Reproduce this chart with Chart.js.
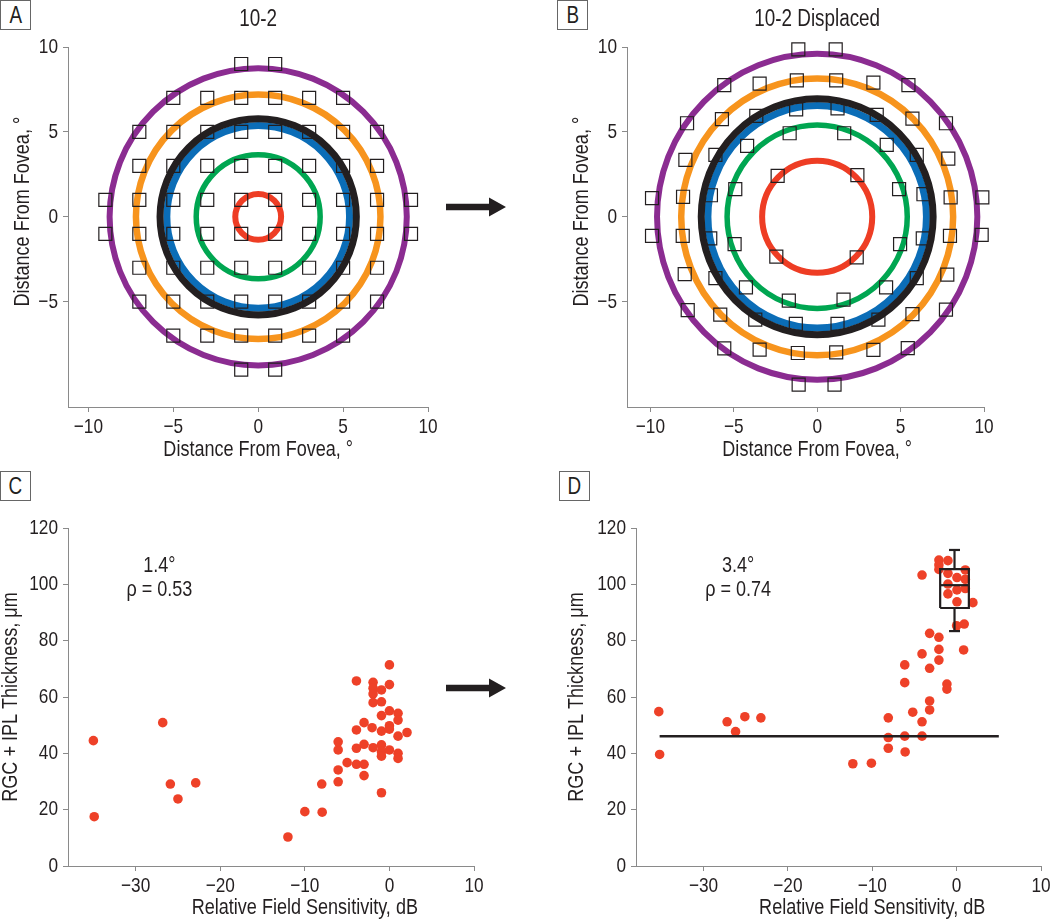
<!DOCTYPE html>
<html><head><meta charset="utf-8">
<script src="https://cdn.jsdelivr.net/npm/chart.js@4.4.1/dist/chart.umd.min.js"></script>
<style>
html,body{margin:0;padding:0;background:#fff;width:1050px;height:920px;overflow:hidden;position:relative}
canvas{position:absolute}
.lbl{position:absolute;border:1px solid #666;box-sizing:border-box;width:31px;height:30px;font:23px "Liberation Sans",Arial,sans-serif;color:#231f20;text-align:center;line-height:29px}
.lbl span{display:inline-block;transform:scaleX(0.82)}
</style></head><body>
<div class="lbl" style="left:0;top:0"><span>A</span></div>
<div class="lbl" style="left:557px;top:0"><span>B</span></div>
<div class="lbl" style="left:0;top:471px"><span>C</span></div>
<div class="lbl" style="left:559px;top:471px"><span>D</span></div>
<canvas id="cA" width="450" height="470" style="left:0;top:0"></canvas>
<canvas id="cB" width="510" height="470" style="left:540px;top:0"></canvas>
<canvas id="cC" width="520" height="450" style="left:0;top:470px"></canvas>
<canvas id="cD" width="520" height="450" style="left:540px;top:470px"></canvas>
<svg style="position:absolute;left:0;top:0" width="1050" height="920">
<polygon points="446,203.7 489,203.7 489,197.5 506,207 489,216.5 489,210.3 446,210.3" fill="#231f20"/>
<polygon points="446,684.7 489,684.7 489,678.5 506,688 489,697.5 489,691.3 446,691.3" fill="#231f20"/>
</svg>
<script>
// ---------- data ----------
const panelTitles = ["10-2", "10-2 Displaced"];
const fieldTicks = [-10, -5, 0, 5, 10];
const fieldTicksY = [-5, 0, 5, 10];
const sensTicks = [-30, -20, -10, 0, 10];
const thickTicks = [0, 20, 40, 60, 80, 100, 120];

// ring radii (degrees): purple, orange, blue, black, green, red
const ringColors = ["#8B2C91", "#F7941D", "#0B6DB7", "#231F20", "#00A651", "#EE3D24"];
const ringsA = [8.75, 7.2, 5.38, 5.78, 3.65, 1.35];
const ringsB = [9.6, 8.15, 6.55, 6.95, 5.4, 3.3];

// 10-2 test grid
const gridA_x = [-1,1, -5,-3,-1,1,3,5, -7,-5,-3,-1,1,3,5,7, -7,-5,-3,-1,1,3,5,7, -9,-7,-5,-3,-1,1,3,5,7,9,
                 -9,-7,-5,-3,-1,1,3,5,7,9, -7,-5,-3,-1,1,3,5,7, -7,-5,-3,-1,1,3,5,7, -5,-3,-1,1,3,5, -1,1];
const gridA_y = [9,9, 7,7,7,7,7,7, 5,5,5,5,5,5,5,5, 3,3,3,3,3,3,3,3, 1,1,1,1,1,1,1,1,1,1,
                 -1,-1,-1,-1,-1,-1,-1,-1,-1,-1, -3,-3,-3,-3,-3,-3,-3,-3, -5,-5,-5,-5,-5,-5,-5,-5, -7,-7,-7,-7,-7,-7, -9,-9];
// displaced 10-2 grid
const gridB_x = [-1.13,1.11,
  -5.57,-3.45,-1.22,1.14,3.37,5.47,
  -7.8,-5.71,-3.65,-1.26,1.22,3.57,5.71,7.72,
  -7.9,-6.1,-4.2,-1.65,1.62,4.17,5.97,7.86,
  -9.9,-8.04,-6.37,-4.91,-2.37,2.41,4.91,6.37,8.0,9.9,
  -9.9,-8.06,-6.41,-4.95,-2.45,2.37,4.97,6.33,7.96,9.86,
  -7.94,-6.1,-4.27,-1.7,1.58,4.13,5.97,7.8,
  -7.76,-5.81,-3.71,-1.28,1.22,3.67,5.71,7.72,
  -5.57,-3.45,-1.16,1.14,3.37,5.43,
  -1.11,1.04];
const gridB_y = [9.86,9.86,
  7.76,7.84,8.04,8.04,7.9,7.76,
  5.51,5.75,5.94,6.33,6.39,6.0,5.78,5.51,
  3.35,3.65,4.18,4.92,4.92,4.24,3.65,3.43,
  1.1,1.18,1.27,1.63,2.41,2.45,1.63,1.33,1.14,1.14,
  -1.12,-1.12,-1.27,-1.61,-2.35,-2.39,-1.61,-1.27,-1.12,-1.06,
  -3.37,-3.61,-4.16,-4.94,-4.88,-4.16,-3.61,-3.41,
  -5.49,-5.76,-6.06,-6.31,-6.31,-6.06,-5.73,-5.47,
  -7.75,-7.82,-8.02,-7.98,-7.84,-7.73,
  -9.88,-9.88];

// Panel C: 1.4 deg
const sensC = [-35,-34.9,-26.8,-25.9,-25.0,-22.9,-12.0,-10,-7.95,-8,-6.06,-6.06,-6.06,-6.06,-5,-3.9,-3.9,-3.9,-3.9,
  -3,-3,-3,-3,-2.05,-1.93,-1.93,-1.93,-1.93,-1.93,-0.94,-0.94,-0.94,-0.94,-0.94,-0.94,-0.94,-0.94,
  0,0,0,0,0,0,1.02,1.02,1.02,1.02,1.02,2.08];
const thickC = [44.5,17.5,50.9,29.1,23.8,29.5,10.3,19.3,19.1,29.1,29.9,34.1,41.2,44.1,36.7,36.1,41.8,48.3,65.7,
  36.1,32.1,43.2,50.9,49.1,65.2,63.1,61.1,58,42.0,62.5,58.3,53.4,47.9,43.0,40.6,39.0,26.0,
  71.4,64.4,55.1,49.8,48.6,41.2,54.2,51.8,46.1,40.0,38.2,47.4];

// Panel D: 3.4 deg
const sensD = [-35.3,-35.2,-27.2,-26.2,-25.1,-23.2,-12.3,-10.1,-8.1,-8.1,-8.1,-6.15,-6.15,-6.15,-6.1,-5.2,
  -4.1,-4.1,-4.1,-4.1,-3.2,-3.2,-3.2,-3.2,-2.1,-2.1,-2.1,-1.15,-1.15,0.83,0,0.9,1.93,
  -2.1,-2.1,-2.1,-1.03,-1.03,0.04,1.03,1.03,1.03,-1.03,0.04,-1.03,0.04];
const thickD = [54.8,39.6,51.2,47.7,53.0,52.6,36.3,36.5,52.6,45.6,41.8,71.4,65.1,46.1,40.5,54.6,
  103.3,75.3,51.2,46.1,82.6,70.2,58.6,55.4,81.2,76.9,73.1,64.6,62.8,76.7,85.3,85.9,93.5,
  108.6,106.9,105.3,108.4,103.9,102.4,105.1,101.8,98.5,100.1,98.0,96.6,93.8];

// normal reference line and box summary (panel D)
const normalLevel = [46.1];
const normalSpan = [-35.2, 5.0];
const boxStats = [83.4, 91.6, 99.7, 105.4, 112.2]; // min, q1, median, q3, max
const boxX = [-1.95, -0.25, 1.45];                  // left, centre, right
const capHalf = 0.65;

// ---------- helpers ----------
const FONT = '"Liberation Sans",Arial,sans-serif';
const NARROW = 0.82;
const INK = '#231f20';
const AXIS = '#8a8a8a';
const DOT = '#EE4128';
const pts = (xs, ys) => xs.map((v, i) => ({x: v, y: ys[i]}));
const fmt = v => String(v).replace('-', '\u2212');

// narrow (condensed) rendering of the canvas text, like the original condensed face
function condense(canvas, k) {
  const ctx = canvas.getContext('2d');
  const ft = ctx.fillText.bind(ctx), mt = ctx.measureText.bind(ctx);
  ctx.fillText = function (t, x, y) {
    ctx.save(); ctx.translate(x, y); ctx.scale(k, 1); ft(t, 0, 0); ctx.restore();
  };
  ctx.measureText = function (t) {
    const m = mt(t);
    return {width: m.width * k,
      actualBoundingBoxAscent: m.actualBoundingBoxAscent, actualBoundingBoxDescent: m.actualBoundingBoxDescent,
      actualBoundingBoxLeft: m.actualBoundingBoxLeft * k, actualBoundingBoxRight: m.actualBoundingBoxRight * k};
  };
  return canvas;
}

function axis(min, max, ticks, size, isY) {
  return {
    type: 'linear', min, max,
    afterBuildTicks: s => { s.ticks = ticks.map(v => ({value: v})); },
    afterFit: s => { if (isY) s.width = size; else s.height = size; },
    grid: {drawOnChartArea: false, drawTicks: true, tickLength: 5, color: AXIS, lineWidth: 1},
    border: {display: true, color: AXIS, width: 1},
    ticks: {color: INK, font: {family: FONT, size: 21}, padding: isY ? 5 : 3,
            autoSkip: false, maxRotation: 0, callback: v => fmt(v)}
  };
}

const ringPlugin = {
  id: 'rings',
  beforeDatasetsDraw(chart, args, opts) {
    if (!opts || !opts.radii) return;
    const {ctx, scales: {x, y}} = chart;
    const cx = x.getPixelForValue(0), cy = y.getPixelForValue(0);
    opts.radii.forEach((r, i) => {
      const rx = Math.abs(x.getPixelForValue(r) - cx), ry = Math.abs(y.getPixelForValue(r) - cy);
      ctx.save();
      ctx.beginPath();
      ctx.ellipse(cx, cy, rx, ry, 0, 0, Math.PI * 2);
      ctx.strokeStyle = ringColors[i];
      ctx.lineWidth = opts.widths[i];
      ctx.stroke();
      ctx.restore();
    });
  }
};

const textPlugin = {
  id: 'texts',
  afterDraw(chart, args, opts) {
    const {ctx, scales: {x, y}} = chart;
    (opts.items || []).forEach(it => {
      ctx.save();
      ctx.font = (it.size || 21) + 'px ' + FONT;
      ctx.fillStyle = INK;
      ctx.textAlign = 'center';
      ctx.textBaseline = 'middle';
      const px = it.xv !== undefined ? x.getPixelForValue(it.xv) : it.px;
      const py = it.yv !== undefined ? y.getPixelForValue(it.yv) : it.py;
      ctx.translate(px, py);
      if (it.rot) ctx.rotate(it.rot);
      ctx.fillText(it.text, 0, 0);
      ctx.restore();
    });
  }
};

const basePlugins = {legend: {display: false}, tooltip: {enabled: false}};

function fieldChart(id, gx, gy, radii, xmin, yW, padRight, title, yTitleX) {
  new Chart(condense(document.getElementById(id), NARROW), {
    type: 'scatter',
    data: {datasets: [{
      data: pts(gx, gy), pointStyle: 'rect', pointRadius: 9.2, borderWidth: 1.2, clip: false,
      borderColor: INK, backgroundColor: 'rgba(0,0,0,0)'
    }]},
    options: {
      responsive: false, animation: false, events: [],
      layout: {padding: {left: 0, top: 47, right: padRight, bottom: 0}},
      scales: {x: axis(xmin, 10, fieldTicks, 63, false), y: axis(-11.2, 10, fieldTicksY, yW, true)},
      plugins: Object.assign({}, basePlugins, {
        rings: {radii, widths: [6, 6.5, 7, 7, 5.5, 6]},
        texts: {items: [
          {text: title, xv: 0, py: 20, size: 23},
          {text: 'Distance From Fovea, \u00b0', xv: 0, py: 449.5, size: 22},
          {text: 'Distance From Fovea, \u00b0', px: yTitleX, yv: 0.3, rot: -Math.PI / 2, size: 22}
        ]}
      })
    },
    plugins: [ringPlugin, textPlugin]
  });
}

fieldChart('cA', gridA_x, gridA_y, ringsA, -11.2, 68, 22, panelTitles[0], 23);
fieldChart('cB', gridB_x, gridB_y, ringsB, -11.4, 87, 66, panelTitles[1], 42);

function lineDs(data, w) {
  return {data, showLine: true, pointRadius: 0, borderColor: INK, borderWidth: w, fill: false, tension: 0, order: 0, clip: false};
}

function sensChart(id, sx, ty, yW, padRight, deg, rho, annX, extra, yTitleX) {
  new Chart(condense(document.getElementById(id), NARROW), {
    type: 'scatter',
    data: {datasets: [{data: pts(sx, ty), pointRadius: 4.8, borderWidth: 0, backgroundColor: DOT, order: 2, clip: false}].concat(extra)},
    options: {
      responsive: false, animation: false, events: [],
      layout: {padding: {left: 0, top: 58, right: padRight, bottom: 0}},
      scales: {x: axis(-38, 10, sensTicks, 54, false), y: axis(0, 120, thickTicks, yW, true)},
      plugins: Object.assign({}, basePlugins, {
        texts: {items: [
          {text: deg, xv: annX, yv: 106.5, size: 22},
          {text: rho, xv: annX, yv: 98, size: 22},
          {text: 'Relative Field Sensitivity, dB', xv: -10, py: 438, size: 22},
          {text: 'RGC + IPL Thickness, \u03bcm', px: yTitleX, yv: 60, rot: -Math.PI / 2, size: 22}
        ]}
      })
    },
    plugins: [textPlugin]
  });
}

sensChart('cC', sensC, thickC, 68, 46, '1.4\u00b0', '\u03c1 = 0.53', -27.2, [], 11);

const [bMin, bQ1, bMed, bQ3, bMax] = boxStats;
const [bL, bC, bR] = boxX;
const extraD = [
  lineDs([{x: normalSpan[0], y: normalLevel[0]}, {x: normalSpan[1], y: normalLevel[0]}], 2.5),
  lineDs([{x: bL, y: bQ1}, {x: bR, y: bQ1}, {x: bR, y: bQ3}, {x: bL, y: bQ3}, {x: bL, y: bQ1}], 2.2),
  lineDs([{x: bL, y: bMed}, {x: bR, y: bMed}], 2.2),
  lineDs([{x: bC, y: bQ3}, {x: bC, y: bMax}], 2.2),
  lineDs([{x: bC - capHalf, y: bMax}, {x: bC + capHalf, y: bMax}], 2.2),
  lineDs([{x: bC, y: bQ1}, {x: bC, y: bMin}], 2.2),
  lineDs([{x: bC - capHalf, y: bMin}, {x: bC + capHalf, y: bMin}], 2.2)
];
sensChart('cD', sensD, thickD, 96, 19, '3.4\u00b0', '\u03c1 = 0.74', -25.9, extraD, 37);
</script>
</body></html>
